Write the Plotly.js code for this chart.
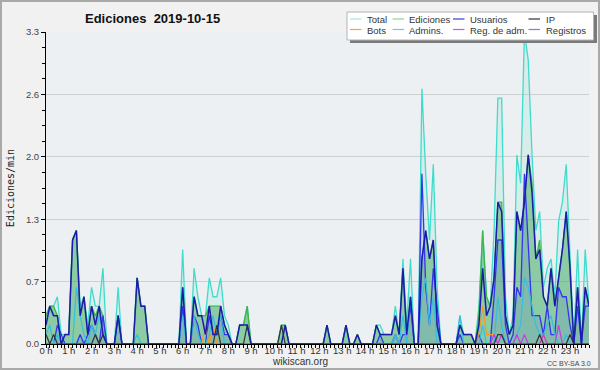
<!DOCTYPE html>
<html><head><meta charset="utf-8">
<script src="https://cdn.plot.ly/plotly-3.0.1.min.js"></script>
<style>
html,body{margin:0;padding:0;background:#f1f1f1;}
#wrap{position:relative;width:600px;height:370px;}
#chart{width:600px;height:370px;}
#frame{position:absolute;left:0;top:0;width:600px;height:370px;box-sizing:border-box;border:2px solid #a9a9a9;pointer-events:none;}
</style></head><body>
<div id="wrap"><div id="chart"></div><div id="frame"></div></div>
<script>
// ---- data: 10-minute bins, edits per minute ----
const hourTicks = [0,1,2,3,4,5,6,7,8,9,10,11,12,13,14,15,16,17,18,19,20,21,22,23];
const hourLabels = ["0 h","1 h","2 h","3 h","4 h","5 h","6 h","7 h","8 h","9 h","10 h","11 h","12 h","13 h","14 h","15 h","16 h","17 h","18 h","19 h","20 h","21 h","22 h","23 h"];
const yTickVals = [0,0.66,1.32,1.98,2.64,3.3];
const yTickText = ["0.0","0.7","1.3","2.0","2.6","3.3"];

const total = [
 0.3,0.4,0.4,0.5,0.1,0.1,
 0.1,1.1,1.2,0.4,0.5,0.2,
 0.6,0.4,0.4,0.8,0,0,
 0,0.6,0,0,0,0,
 0.7,0.4,0.4,0,0,0,
 0,0,0,0,0,0,
 1.0,0,0,0.8,0.5,0.3,
 0.3,0.7,0.5,0.5,0.7,0.3,
 0.2,0,0,0.2,0.2,0.4,
 0,0,0,0,0,0,
 0,0,0.2,0.2,0,0,
 0,0,0,0,0,0,
 0,0,0.2,0,0,0,
 0,0.2,0,0,0.1,0,
 0,0,0,0.2,0.2,0.1,
 0.1,0.1,0.4,0.1,0.9,0.2,
 0.9,0,0,2.7,1.8,1.1,
 1.9,0.6,0,0,0,0,
 0,0.3,0.1,0.1,0.1,0,
 0.4,1.2,0.5,0.4,1.2,2.6,
 2.6,0.5,0.1,0.3,2.0,1.7,
 3.3,3.0,2.0,1.2,1.4,0.6,
 0.8,0.9,0.5,1.3,1.5,1.9,
 1.0,0,1.0,0,1.0,0.4
];
const ediciones = [
 0.3,0.4,0.4,0.3,0,0.1,
 0.1,1.1,1.2,0.3,0.5,0.1,
 0.4,0.3,0.4,0.3,0,0,
 0,0.3,0,0,0,0,
 0.7,0.4,0.4,0,0,0,
 0,0,0,0,0,0,
 0.6,0,0,0.5,0.3,0.3,
 0.3,0.4,0.4,0.4,0.4,0.2,
 0.1,0,0,0.2,0.2,0.4,
 0,0,0,0,0,0,
 0,0,0.2,0.2,0,0,
 0,0,0,0,0,0,
 0,0,0.2,0,0,0,
 0,0.2,0,0,0.1,0,
 0,0,0,0.2,0.1,0.1,
 0.1,0.1,0.3,0.1,0.8,0.1,
 0.5,0,0,0.9,1.2,0.9,
 1.1,0.2,0,0,0,0,
 0,0.2,0.1,0.1,0.1,0,
 0.3,1.2,0.5,0.4,0.7,1.5,
 1.5,0.3,0.1,0.2,1.4,1.2,
 1.5,2.0,1.7,0.9,1.1,0.5,
 0.4,0.8,0.4,0.7,1.0,1.4,
 0.8,0,0.6,0,0.6,0.4
];
const usuarios = [
 0.2,0.4,0.3,0.3,0,0.1,
 0.1,1.1,1.2,0.3,0.5,0.1,
 0.4,0.2,0.4,0.1,0,0,
 0,0.3,0,0,0,0,
 0.7,0.4,0.4,0,0,0,
 0,0,0,0,0,0,
 0.6,0,0,0.5,0.3,0.3,
 0.1,0.4,0.1,0.1,0.4,0.2,
 0.1,0,0,0.2,0.2,0.2,
 0,0,0,0,0,0,
 0,0,0,0.2,0,0,
 0,0,0,0,0,0,
 0,0,0.2,0,0,0,
 0,0.2,0,0,0.1,0,
 0,0,0,0.2,0.1,0.1,
 0.1,0.1,0.3,0.1,0.8,0.1,
 0.5,0,0,0.9,1.2,0.9,
 1.1,0.2,0,0,0,0,
 0,0.2,0.1,0.1,0.1,0,
 0.2,0.8,0.3,0.4,0.7,1.5,
 1.4,0.3,0.1,0.2,1.4,1.2,
 1.5,2.0,1.6,0.9,1.0,0.5,
 0.4,0.8,0.4,0.7,1.0,1.4,
 0.8,0,0.6,0,0.6,0.4
];
const ip = [
 0.1,0,0.1,0,0,0,
 0,0,0,0,0,0,
 0,0.1,0,0.1,0,0,
 0,0,0,0,0,0,
 0,0,0,0,0,0,
 0,0,0,0,0,0,
 0,0,0,0,0,0,
 0,0,0,0.2,0,0,
 0,0,0,0,0,0.2,
 0,0,0,0,0,0,
 0,0,0.2,0,0,0,
 0,0,0,0,0,0,
 0,0,0,0,0,0,
 0,0,0,0,0,0,
 0,0,0,0,0,0,
 0,0,0,0,0,0,
 0,0,0,0,0,0,
 0,0,0,0,0,0,
 0,0,0,0,0,0,
 0,0,0,0,0,0.1,
 0.1,0,0,0,0,0,
 0,0,0,0,0.1,0,
 0,0,0,0,0,0,
 0.1,0,0,0,0,0
];
const bots = [
 0,0,0,0,0,0, 0,0,0,0,0,0, 0,0,0,0,0,0, 0,0,0,0,0,0,
 0,0,0,0,0,0, 0,0,0,0,0,0, 0,0,0,0,0,0,
 0.2,0,0.2,0,0,0,
 0,0,0,0,0,0, 0,0,0,0,0,0, 0,0,0,0,0,0, 0,0,0,0,0,0,
 0,0,0,0,0,0, 0,0,0,0,0,0, 0,0,0,0,0,0, 0,0,0,0,0,0,
 0,0,0,0,0,0, 0,0,0,0,0,0, 0,0,0,0,0,0,
 0.1,0.4,0.1,0.1,0.1,0,
 0,0,0,0,0,0,
 0,0,0,0,0,0.1,
 0,0,0,0,0,0,
 0,0,0,0,0,0
];
const admins = [
 0.1,0.2,0,0.1,0,0,
 0,0,0.6,0.3,0.1,0,
 0.2,0.1,0.3,0.1,0,0,
 0,0,0,0,0,0,
 0.1,0,0,0,0,0,
 0,0,0,0,0,0,
 0.3,0,0,0.3,0.1,0,
 0,0.1,0.3,0.1,0.3,0,
 0,0,0,0,0,0, 0,0,0,0,0,0, 0,0,0,0,0,0, 0,0,0,0,0,0,
 0,0,0,0,0,0, 0,0,0,0,0,0, 0,0,0,0,0,0,
 0,0,0.1,0,0.3,0,
 0.5,0,0,0.5,0.7,0.2,
 0.5,0,0,0,0,0,
 0,0.3,0,0,0,0,
 0,0.2,0,0,0,0.5,
 0.2,0,0,0,0.1,0.2,
 0.7,0.6,0.4,0.2,0.1,0.1,
 0.2,0.3,0.1,0,0,0.1,
 0,0,0,0,0,0
];
const regAdm = [
 0,0,0,0,0,0, 0,0,0,0,0,0, 0,0,0,0,0,0, 0,0,0,0,0,0,
 0,0,0,0,0,0, 0,0,0,0,0,0, 0,0,0,0,0,0, 0,0,0,0,0,0,
 0,0,0,0,0,0, 0,0,0,0,0,0, 0,0,0,0,0,0, 0,0,0,0,0,0,
 0,0,0,0,0,0, 0,0,0,0,0,0, 0,0,0,0,0,0, 0,0,0,0,0,0,
 0,0,0,0,0,0, 0,0,0,0,0,0, 0,0,0,0,0,0,
 0,0,0,0,0.1,0,
 0.1,0,0,0,0.1,0,
 0.1,0,0,0,0,0.1,
 0,0,0,0.2,0,0,
 0,0,0,0,0,0
];
const registros = [
 0,0,0,0.2,0.1,0,
 0,0,0,0.1,0,0.1,
 0.2,0.1,0,0.3,0,0,
 0,0.3,0,0,0,0,
 0,0,0,0,0,0,
 0,0,0,0,0,0,
 0.4,0,0,0.3,0.2,0,
 0,0.3,0.1,0.1,0.3,0.1,
 0.1,0,0,0,0,0,
 0,0,0,0,0,0, 0,0,0,0,0,0, 0,0,0,0,0,0, 0,0,0,0,0,0, 0,0,0,0,0,0,
 0,0,0,0,0.1,0,
 0,0,0.1,0,0.1,0.1,
 0.4,0,0,1.8,0.6,0.2,
 0.8,0.4,0,0,0,0,
 0,0.1,0,0,0,0,
 0.1,0,0,0,0.5,1.1,
 1.1,0.2,0,0.1,0.6,0.5,
 1.8,1.0,0.3,0.3,0.3,0.1,
 0.4,0.1,0.1,0.6,0.5,0.5,
 0.2,0,0.4,0,0.4,0.4
];
const seriesNames = ["Total","Ediciones","Usuarios","IP","Bots","Admins.","Reg. de adm.","Registros"];
const seriesColors = ["#40dccb","#3fb64a","#1c1cab","#333333","#f29a26","#34bfe0","#c43fdc","#3434f2"];
const legendColors = ["#a8e6de","#8fd394","#3c3cc8","#303030","#f2a440","#5ad0e6","#c95be0","#7c7cf0"];

// ---- chart ----
const x = total.map((_, i) => i / 6);
const SANS = '"Liberation Sans", Arial, sans-serif';

function line(name, y, idx, width, fill, fillcolor) {
  const t = {type:'scatter', mode:'lines', name:name, x:x, y:y, showlegend:false,
    line:{color:seriesColors[idx], width:width, shape:'linear'}, hoverinfo:'skip'};
  if (fill) { t.fill = 'tozeroy'; t.fillcolor = fillcolor; }
  return t;
}
const traces = [
  line(seriesNames[0], total, 0, 1.3, true, 'rgba(64,220,203,0.13)'),
  line(seriesNames[1], ediciones, 1, 1.3, true, 'rgba(58,165,85,0.48)'),
  line(seriesNames[7], registros, 7, 1.3, true, 'rgba(52,52,242,0.10)'),
  line(seriesNames[5], admins, 5, 1.2),
  line(seriesNames[4], bots, 4, 1.2),
  line(seriesNames[6], regAdm, 6, 1.2),
  line(seriesNames[3], ip, 3, 1.2),
  line(seriesNames[2], usuarios, 2, 1.5)
];

const L = 46, R = 589, T = 32, B = 344;
const px = v => (v - L) / (R - L);
const py = v => (B - v) / (B - T);

const shapes = [
  {type:'rect', xref:'paper', yref:'paper', x0:px(350), x1:px(597), y0:py(15), y1:py(43), fillcolor:'#7a7a7a', line:{width:0}},
  {type:'rect', xref:'paper', yref:'paper', x0:px(347), x1:px(593.5), y0:py(12), y1:py(40), fillcolor:'#ffffff', line:{color:'#b4b4b4', width:1}}
];
const annotations = [];
const colX = [[350,366],[392.5,408],[453,469],[528.5,545]];
const rowY = [19, 29.5];
[0,1,2,3,4,5,6,7].forEach((k, j) => {
  const c = colX[j % 4], yy = rowY[Math.floor(j / 4)];
  shapes.push({type:'line', xref:'paper', yref:'paper', x0:px(c[0]), x1:px(c[0]+11.5), y0:py(yy), y1:py(yy), line:{color:legendColors[k], width:1.2}});
  annotations.push({xref:'paper', yref:'paper', x:px(c[1]-1), y:py(yy+0.5), xanchor:'left', yanchor:'middle', showarrow:false,
    text:seriesNames[k], font:{family:SANS, size:9.5, color:'#333'}});
});
annotations.push({xref:'paper', yref:'paper', x:px(300), y:py(361.5), xanchor:'center', yanchor:'middle', showarrow:false,
  text:'wikiscan.org', font:{family:SANS, size:10, color:'#333'}});
annotations.push({xref:'paper', yref:'paper', x:px(569), y:py(363), xanchor:'center', yanchor:'middle', showarrow:false,
  text:'CC BY-SA 3.0', font:{family:SANS, size:7, color:'#444'}});

const layout = {
  width:600, height:370,
  margin:{l:L, r:600-R, t:T, b:370-B, pad:0},
  paper_bgcolor:'#f1f1f1', plot_bgcolor:'#edf0f2',
  showlegend:false,
  title:{text:'Ediciones\u00a0 2019-10-15', x:85/600, xanchor:'left', xref:'container', y:1-18/370, yanchor:'middle', yref:'container',
    font:{family:SANS, size:13, color:'#111', weight:'bold'}},
  xaxis:{range:[0,143/6], tickmode:'array', tickvals:hourTicks, ticktext:hourLabels,
    ticks:'outside', ticklen:3, tickcolor:'#000', tickwidth:1, ticklabelstandoff:-5,
    showline:true, linecolor:'#000', linewidth:1, showgrid:false, zeroline:false,
    tickfont:{family:SANS, size:9.5, color:'#333'},
    minor:{tickmode:'linear', tick0:0, dtick:1/6, ticks:'outside', ticklen:3, tickcolor:'#000', showgrid:false},
    fixedrange:true},
  yaxis:{range:[0,3.3], tickmode:'array', tickvals:yTickVals, ticktext:yTickText,
    ticks:'outside', ticklen:4, tickcolor:'#000', tickwidth:1,
    showline:true, linecolor:'#000', linewidth:1, showgrid:true, gridcolor:'#cfcfcf', gridwidth:1, zeroline:false,
    tickfont:{family:SANS, size:9.5, color:'#444'},
    minor:{tickmode:'linear', tick0:0, dtick:0.165, ticks:'outside', ticklen:3, tickcolor:'#000', showgrid:false},
    title:{text:'Ediciones/min', font:{family:'"DejaVu Sans Mono", monospace', size:10, color:'#222'}, standoff:9},
    fixedrange:true},
  shapes:shapes,
  annotations:annotations
};
Plotly.newPlot('chart', traces, layout, {staticPlot:true, displayModeBar:false});
</script>
</body></html>
